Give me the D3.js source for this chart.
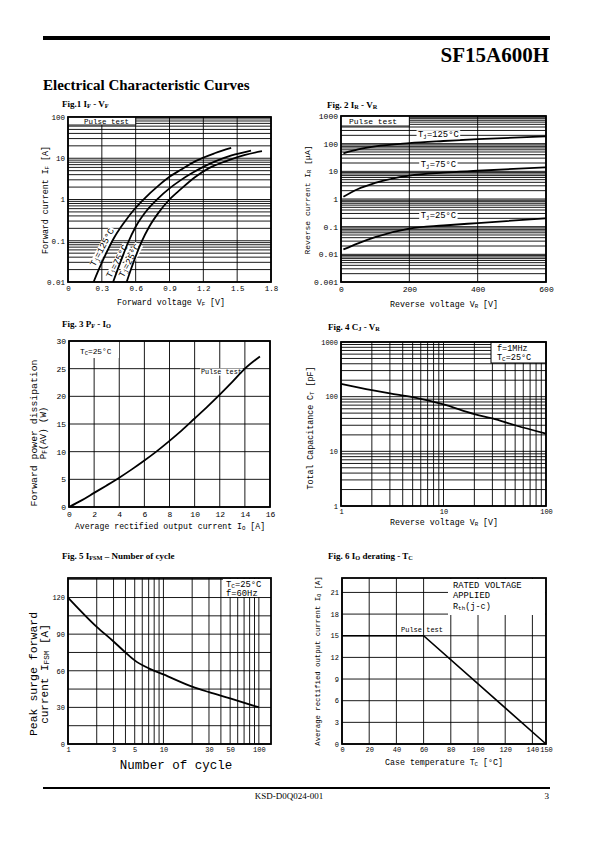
<!DOCTYPE html>
<html><head><meta charset="utf-8">
<script src="https://cdn.jsdelivr.net/npm/d3@7"></script>
<style>body{margin:0;background:#fff}</style>
</head><body>
<svg id="page" width="595" height="842" xmlns="http://www.w3.org/2000/svg"></svg>
<script>
// ---------- DATA ----------
// Fig.1 IF - VF  (V, A)
const fig1XTicks = [0, 0.3, 0.6, 0.9, 1.2, 1.5, 1.8];
const fig1YTicks = [0.01, 0.1, 1, 10, 100];
const fig1Tj125 = [[0.227,0.01],[0.26,0.0166],[0.30,0.0295],[0.35,0.0575],[0.40,0.107],[0.50,0.282],[0.60,0.63],[0.68,1.07],[0.80,2.14],[0.90,3.55],[1.00,5.25],[1.13,8.5],[1.30,13.2],[1.447,17.8]];
const fig1Tj75  = [[0.40,0.01],[0.44,0.02],[0.48,0.039],[0.53,0.087],[0.60,0.219],[0.70,0.55],[0.80,1.07],[0.90,1.86],[1.00,2.95],[1.10,4.37],[1.20,6.17],[1.31,8.5],[1.45,11.7],[1.623,15.4]];
const fig1Tj25  = [[0.52,0.01],[0.56,0.0209],[0.60,0.0417],[0.65,0.091],[0.72,0.219],[0.80,0.468],[0.90,1.0],[1.00,1.78],[1.125,3.47],[1.25,5.75],[1.42,8.9],[1.57,12.0],[1.72,14.8]];
const fig1Labels = ["T_{j}=125°C","T_{j}=75°C","T_{j}=25°C"];

// Fig.2 IR - VR  (V, µA)
const fig2XTicks = [0, 200, 400, 600];
const fig2YTicks = [0.001, 0.01, 0.1, 1, 10, 100, 1000];
const fig2Tj125 = [[7,45],[50,62],[100,80],[200,105],[300,125],[400,145],[600,185]];
const fig2Tj75  = [[7,1.2],[50,2.3],[100,3.8],[200,7],[300,9],[400,10.5],[600,14]];
const fig2Tj25  = [[7,0.015],[50,0.025],[100,0.042],[200,0.085],[300,0.11],[400,0.135],[600,0.2]];
const fig2Labels = ["T_{j}=125°C","T_{j}=75°C","T_{j}=25°C"];

// Fig.3 PF - IO  (A, W)
const fig3XTicks = [0,2,4,6,8,10,12,14,16];
const fig3YTicks = [0,5,10,15,20,25,30];
const fig3Curve = [[0,0],[1,1.2],[2,2.55],[3,3.9],[4,5.3],[5,6.8],[6,8.4],[7,10.1],[8,11.95],[9,13.9],[10,16],[11,18.1],[12,20.3],[13,22.6],[14,25],[15.2,27.2]];

// Fig.4 CJ - VR  (V, pF)
const fig4XTicks = [1, 10, 100];
const fig4YTicks = [1, 10, 100, 1000];
const fig4Curve = [[1,172],[2,132],[3,115],[5,98],[10,72],[20,48],[30,40],[50,30],[100,21]];

// Fig.5 IFSM - Number of cycle  (cycles, A)
const fig5XTicks = [1, 3, 5, 10, 30, 50, 100];
const fig5YTicks = [0, 30, 60, 90, 120];
const fig5Curve = [[1,120],[2,96],[3,84],[4,75],[5,68.5],[7,62],[10,57],[20,47],[30,42.5],[50,37.3],[100,30]];

// Fig.6 IO derating - TC  (°C, A)
const fig6XTicks = [0,20,40,60,80,100,120,140,150];
const fig6YTicks = [0,3,6,9,12,15,18,21];
const fig6Curve = [[0,15],[60,15],[150,0]];

// ---------- HELPERS ----------
const svg = d3.select('#page');
const MONO = "'Liberation Mono','DejaVu Sans Mono',monospace";
const SERIF = "'Liberation Serif','Times New Roman',serif";

function rich(sel, str) {
  str.split(/(_\{[^}]*\})/).forEach(p => {
    if (!p) return;
    const m = p.match(/^_\{([^}]*)\}$/);
    if (m) sel.append('tspan').attr('font-size','70%').attr('baseline-shift','-18%').text(m[1]);
    else sel.append('tspan').text(p);
  });
  return sel;
}
function txt(parent, x, y, str, o = {}) {
  const t = parent.append('text').attr('x', x).attr('y', y)
    .attr('font-family', o.family || MONO).attr('font-size', o.size || 8)
    .attr('font-weight', o.weight || 'normal').attr('text-anchor', o.anchor || 'start')
    .attr('fill', '#000');
  if (o.rotate !== undefined) t.attr('transform', `rotate(${o.rotate},${x},${y})`);
  if (o.ls) t.attr('letter-spacing', o.ls);
  rich(t, str);
  return t;
}
function logMinors(lo, hi) {
  const out = [];
  for (let d = lo; d < hi * 1.0001; d *= 10)
    for (let k = 1; k <= 9; k++) { const v = d * k; if (v <= hi * 1.0001) out.push(v); }
  return out;
}
function whiteBox(parent, x, y, w, h, border) {
  parent.append('rect').attr('x', x).attr('y', y).attr('width', w).attr('height', h)
    .attr('fill', '#fff').attr('stroke', border ? '#000' : 'none').attr('stroke-width', 1);
}
function bgText(parent, t, pad = 1) {
  const b = t.node().getBBox();
  const r = parent.insert('rect', () => t.node()).attr('x', b.x - pad).attr('y', b.y + 0.5)
    .attr('width', b.width + 2 * pad).attr('height', b.height - 1).attr('fill', '#fff');
  if (t.attr('transform')) r.attr('transform', t.attr('transform'));
}

function panel(c) {
  const g = svg.append('g');
  const x = (c.xLog ? d3.scaleLog() : d3.scaleLinear()).domain(c.xDomain).range([c.left, c.right]);
  const y = (c.yLog ? d3.scaleLog() : d3.scaleLinear()).domain(c.yDomain).range([c.bottom, c.top]);
  const grid = g.append('g').attr('stroke', '#000').attr('stroke-width', c.gridW || 0.9);
  grid.selectAll('.v').data(c.xGrid).join('line')
    .attr('x1', d => x(d)).attr('x2', d => x(d)).attr('y1', c.top).attr('y2', c.bottom);
  grid.selectAll('.h').data(c.yGrid).join('line')
    .attr('y1', d => y(d)).attr('y2', d => y(d)).attr('x1', c.left).attr('x2', c.right);
  const over = g.append('g');
  g.append('rect').attr('x', c.left).attr('y', c.top)
    .attr('width', c.right - c.left).attr('height', c.bottom - c.top)
    .attr('fill', 'none').attr('stroke', '#000').attr('stroke-width', 1.8);
  const ax = g.append('g').attr('transform', `translate(0,${c.bottom})`)
    .call(d3.axisBottom(x).tickValues(c.xTicks).tickSize(0).tickPadding(c.xPad || 4).tickFormat(c.xFmt || (d => d)));
  const ay = g.append('g').attr('transform', `translate(${c.left},0)`)
    .call(d3.axisLeft(y).tickValues(c.yTicks).tickSize(0).tickPadding(c.yPad || 3).tickFormat(c.yFmt || (d => d)));
  [ax, ay].forEach(a => {
    a.select('.domain').remove();
    a.selectAll('text').attr('font-family', MONO).attr('font-size', c.tickSize || 7.5).attr('fill', '#000');
  });
  return { g, x, y, over };
}
function curve(p, data, w = 1.8, type = d3.curveMonotoneX) {
  const line = d3.line().x(d => p.x(d[0])).y(d => p.y(d[1])).curve(type);
  return p.g.append('path').datum(data).attr('d', line)
    .attr('fill', 'none').attr('stroke', '#000').attr('stroke-width', w);
}

// ---------- PAGE FRAME ----------
svg.append('rect').attr('x', 43).attr('y', 36).attr('width', 507).attr('height', 4).attr('fill', '#000');
txt(svg, 549, 62, 'SF15A600H', { family: SERIF, size: 21, weight: 'bold', anchor: 'end' });
txt(svg, 43, 90, 'Electrical Characteristic Curves', { family: SERIF, size: 15, weight: 'bold' });
svg.append('rect').attr('x', 43).attr('y', 787).attr('width', 507).attr('height', 2).attr('fill', '#000');
txt(svg, 289, 799, 'KSD-D0Q024-001', { family: SERIF, size: 9, anchor: 'middle' });
txt(svg, 549, 799, '3', { family: SERIF, size: 9, anchor: 'end' });

const T = { family: SERIF, size: 9, weight: 'bold' };
txt(svg, 62, 107, 'Fig.1 I_{F} - V_{F}', T);
txt(svg, 327, 108, 'Fig. 2 I_{R} - V_{R}', T);
txt(svg, 62, 327, 'Fig. 3 P_{F} - I_{O}', T);
txt(svg, 328, 330, 'Fig. 4 C_{J} - V_{R}', T);
txt(svg, 62, 559, 'Fig. 5 I_{FSM} – Number of cycle', T);
txt(svg, 328, 559, 'Fig. 6 I_{O} derating - T_{C}', T);

// ---------- FIG 1 ----------
{
  const p = panel({ left: 68, right: 271, top: 117, bottom: 282,
    xDomain: [0, 1.8], yDomain: [0.01, 100], yLog: true,
    xGrid: fig1XTicks, yGrid: logMinors(0.01, 100),
    xTicks: fig1XTicks, yTicks: fig1YTicks, yFmt: d => String(d) });
  whiteBox(p.over, p.x(0), p.y(100), p.x(0.6) - p.x(0), 8, false);
  p.over.append('path').attr('d', `M${p.x(0)},${p.y(100) + 8}H${p.x(0.6)}V${p.y(100)}`).attr('fill', 'none').attr('stroke', '#000').attr('stroke-width', 0.9);
  txt(p.over, 84, 124, 'Pulse test', { size: 7.5 });
  const pos = [[0.301, 0.07], [0.434, 0.032], [0.543, 0.033]];
  fig1Labels.forEach((s, i) => {
    const t = txt(p.g, p.x(pos[i][0]), p.y(pos[i][1]) + 3, s, { size: 9, anchor: 'middle' });
    t.attr('transform', `rotate(-62,${p.x(pos[i][0])},${p.y(pos[i][1])})`);
    bgText(p.g, t, 0.5);
  });
  [fig1Tj125, fig1Tj75, fig1Tj25].forEach(d => curve(p, d));
  txt(svg, 171, 305, 'Forward voltage V_{F} [V]', { size: 8.3, anchor: 'middle' });
  txt(svg, 48, 200, 'Forward current I_{F} [A]', { size: 8.3, anchor: 'middle', rotate: -90 });
}

// ---------- FIG 2 ----------
{
  const p = panel({ left: 341, right: 546, top: 116, bottom: 282,
    xDomain: [0, 600], yDomain: [0.001, 1000], yLog: true,
    xGrid: fig2XTicks, yGrid: logMinors(0.001, 1000),
    xTicks: fig2XTicks, yTicks: fig2YTicks, yFmt: d => String(d), tickSize: 8 });
  whiteBox(p.over, p.x(0), p.y(1000), p.x(200) - p.x(0), 10, false);
  p.over.append('path').attr('d', `M${p.x(0)},${p.y(1000) + 10}H${p.x(200)}V${p.y(1000)}`).attr('fill', 'none').attr('stroke', '#000').attr('stroke-width', 0.9);
  txt(p.over, 349, 124, 'Pulse test', { size: 8 });
  [fig2Tj125, fig2Tj75, fig2Tj25].forEach(d => curve(p, d));
  const pos = [[285, 230], [285, 19], [285, 0.26]];
  fig2Labels.forEach((s, i) => {
    const t = txt(p.g, p.x(pos[i][0]), p.y(pos[i][1]) + 3, s, { size: 8.8, anchor: 'middle' });
    bgText(p.g, t, 1.5);
  });
  txt(svg, 444, 307, 'Reverse voltage V_{R} [V]', { size: 8.3, anchor: 'middle' });
  txt(svg, 310, 200, 'Reverse current I_{R} [μA]', { size: 8, anchor: 'middle', rotate: -90 });
}

// ---------- FIG 3 ----------
{
  const p = panel({ left: 69, right: 270, top: 341, bottom: 507,
    xDomain: [0, 16], yDomain: [0, 30],
    xGrid: fig3XTicks, yGrid: fig3YTicks,
    xTicks: fig3XTicks, yTicks: fig3YTicks, tickSize: 8 });
  whiteBox(p.over, p.x(0) + 1, p.y(30) + 1, p.x(3.9) - p.x(0), 16, false);
  txt(p.over, 80, 354, 'T_{C}=25°C', { size: 7.8 });
  const pt = txt(p.over, 201, 374, 'Pulse test', { size: 6.8 });
  bgText(p.over, pt, 1);
  curve(p, fig3Curve);
  txt(svg, 170, 529, 'Average rectified output current I_{O} [A]', { size: 8.2, anchor: 'middle' });
  txt(svg, 37, 433, 'Forward power dissipation', { size: 9.8, anchor: 'middle', rotate: -90 });
  txt(svg, 46, 433, 'P_{F}(AV) (W)', { size: 9, anchor: 'middle', rotate: -90 });
}

// ---------- FIG 4 ----------
{
  const p = panel({ left: 341, right: 546, top: 342, bottom: 506,
    xDomain: [1, 100], yDomain: [1, 1000], xLog: true, yLog: true,
    xGrid: logMinors(1, 100), yGrid: logMinors(1, 1000),
    xTicks: fig4XTicks, yTicks: fig4YTicks, yFmt: d => String(d), xFmt: d => String(d), tickSize: 7, xPad: 3 });
  whiteBox(p.over, 491, 342, 55, 21, true);
  txt(p.over, 497, 351, 'f=1MHz', { size: 8.5 });
  txt(p.over, 497, 360, 'T_{C}=25°C', { size: 8.5 });
  curve(p, fig4Curve);
  txt(svg, 444, 525, 'Reverse voltage V_{R} [V]', { size: 8.3, anchor: 'middle' });
  txt(svg, 313, 428, 'Total Capacitance C_{T} [pF]', { size: 8.3, anchor: 'middle', rotate: -90 });
}

// ---------- FIG 5 ----------
{
  const p = panel({ left: 68, right: 271, top: 578, bottom: 744,
    xDomain: [1, 134], yDomain: [0, 136], xLog: true,
    xGrid: logMinors(1, 100), yGrid: [0,15,30,45,60,75,90,105,120,135],
    xTicks: fig5XTicks, yTicks: fig5YTicks, xFmt: d => String(d), tickSize: 7, xPad: 3 });
  whiteBox(p.over, 223, 579, 47, 18, false);
  txt(p.over, 226, 587, 'T_{C}=25°C', { size: 8.8 });
  txt(p.over, 226, 596, 'f=60Hz', { size: 8.8 });
  curve(p, fig5Curve);
  txt(svg, 176, 769, 'Number of cycle', { size: 12.5, anchor: 'middle' });
  txt(svg, 37, 674, 'Peak surge forward', { size: 11.5, anchor: 'middle', rotate: -90 });
  txt(svg, 48, 674, 'current I_{FSM} [A]', { size: 11, anchor: 'middle', rotate: -90 });
}

// ---------- FIG 6 ----------
{
  const p = panel({ left: 342, right: 546, top: 578, bottom: 744,
    xDomain: [0, 150], yDomain: [0, 23],
    xGrid: fig6XTicks, yGrid: fig6YTicks,
    xTicks: fig6XTicks, yTicks: fig6YTicks, tickSize: 7, xPad: 3 });
  whiteBox(p.over, 448, 579, 97, 36, false);
  txt(p.over, 453, 588, 'RATED VOLTAGE', { size: 8.8 });
  txt(p.over, 453, 598, 'APPLIED', { size: 8.8 });
  txt(p.over, 453, 609, 'R_{th}(j-c)', { size: 8.5 });
  txt(p.over, 401, 632, 'Pulse test', { size: 7 });
  curve(p, fig6Curve, 1.6, d3.curveLinear);
  txt(svg, 444, 765, 'Case temperature T_{C} [°C]', { size: 8.3, anchor: 'middle' });
  txt(svg, 320, 661, 'Average rectified output current I_{O} [A]', { size: 7.3, anchor: 'middle', rotate: -90 });
}
</script>
</body></html>
